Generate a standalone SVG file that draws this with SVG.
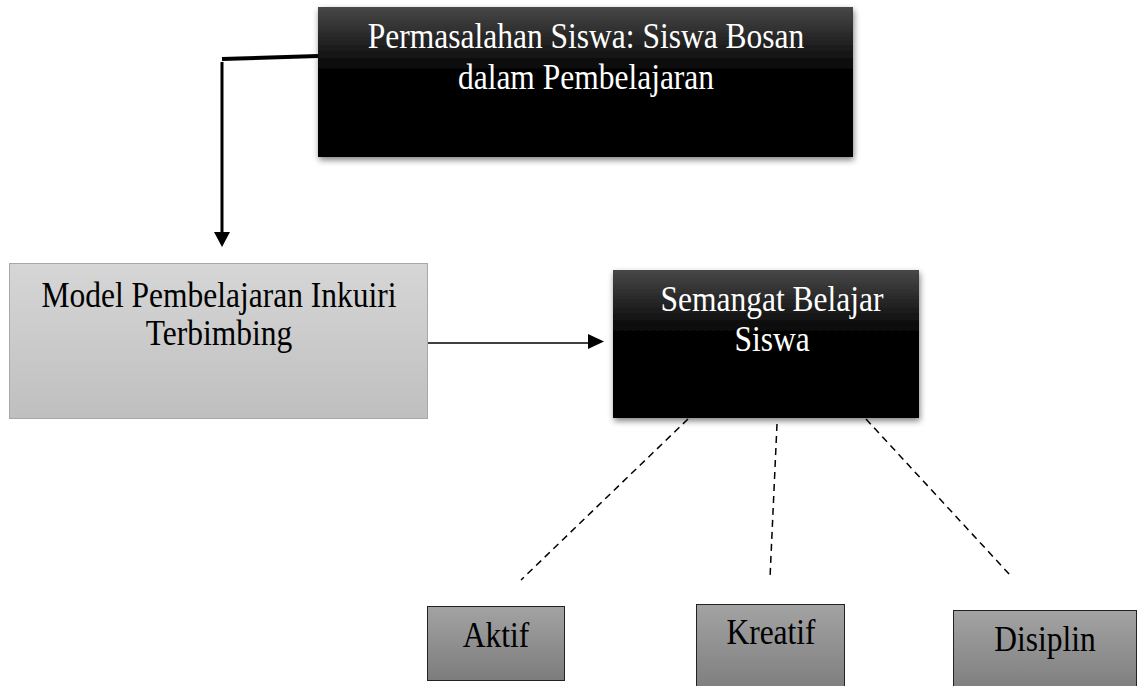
<svg xmlns="http://www.w3.org/2000/svg" width="1142" height="686" viewBox="0 0 1142 686">
<style>
.t{font-family:"Liberation Serif","Times New Roman",serif;font-size:35px;text-anchor:middle}
.w{fill:#ffffff}
.k{fill:#000000}
.dash{stroke:#000;stroke-width:1.5;stroke-dasharray:7 5;fill:none}
</style>
<defs>
<linearGradient id="gBlack" x1="0" y1="0" x2="0" y2="1">
<stop offset="0" stop-color="#484848"/>
<stop offset="0.45" stop-color="#000"/>
<stop offset="1" stop-color="#000"/>
</linearGradient>
<linearGradient id="gLight" x1="0" y1="0" x2="0" y2="1">
<stop offset="0" stop-color="#d6d6d6"/>
<stop offset="1" stop-color="#bfbfbf"/>
</linearGradient>
<linearGradient id="gGray" x1="0" y1="0" x2="0" y2="1">
<stop offset="0" stop-color="#a3a3a3"/>
<stop offset="1" stop-color="#7c7c7c"/>
</linearGradient>
<filter id="sh" x="-10%" y="-10%" width="120%" height="130%">
<feGaussianBlur in="SourceAlpha" stdDeviation="3"/>
<feOffset dx="1" dy="3" result="b"/>
<feComponentTransfer><feFuncA type="linear" slope="0.5"/></feComponentTransfer>
<feMerge><feMergeNode/><feMergeNode in="SourceGraphic"/></feMerge>
</filter>
</defs>
<rect width="1142" height="686" fill="#fff"/>

<g id="connectors">
<line x1="318" y1="56" x2="222" y2="59" stroke="#000" stroke-width="4"/>
<line x1="222" y1="62" x2="222" y2="233" stroke="#000" stroke-width="3"/>
<path d="M214,232 L230,232 L222,247 Z" fill="#000"/>
<line x1="428" y1="343" x2="590" y2="343" stroke="#000" stroke-width="1.5"/>
<path d="M588,334 L604,341.5 L588,349 Z" fill="#000"/>
<line class="dash" x1="688" y1="419" x2="521" y2="580"/>
<line class="dash" x1="777" y1="424" x2="770" y2="578"/>
<line class="dash" x1="866" y1="419" x2="1010" y2="575"/>
</g>

<g id="problem">
<rect x="318" y="7" width="535" height="150" fill="url(#gBlack)" filter="url(#sh)"/>
<text class="t w" transform="translate(586,48) scale(0.9,1)">Permasalahan Siswa: Siswa Bosan</text>
<text class="t w" transform="translate(586,89) scale(0.9,1)">dalam Pembelajaran</text>
</g>

<g id="model">
<rect x="9.5" y="263.5" width="418" height="155" fill="url(#gLight)" stroke="#a8a8a8" stroke-width="1"/>
<text class="t k" transform="translate(219,307) scale(0.9,1)">Model Pembelajaran Inkuiri</text>
<text class="t k" transform="translate(219,345) scale(0.9,1)">Terbimbing</text>
</g>

<g id="semangat">
<rect x="613" y="270" width="306" height="148" fill="url(#gBlack)" filter="url(#sh)"/>
<text class="t w" transform="translate(772,311) scale(0.9,1)">Semangat Belajar</text>
<text class="t w" transform="translate(772,351) scale(0.9,1)">Siswa</text>
</g>

<g id="aktif">
<rect x="427.5" y="606.5" width="137" height="74" fill="url(#gGray)" stroke="#222" stroke-width="1"/>
<text class="t k" transform="translate(496,647) scale(0.9,1)">Aktif</text>
</g>

<g id="kreatif">
<rect x="696.5" y="604.5" width="148" height="90" fill="url(#gGray)" stroke="#222" stroke-width="1"/>
<text class="t k" transform="translate(771,644) scale(0.9,1)">Kreatif</text>
</g>

<g id="disiplin">
<rect x="953.5" y="610.5" width="183" height="84" fill="url(#gGray)" stroke="#222" stroke-width="1"/>
<text class="t k" transform="translate(1045,651) scale(0.9,1)">Disiplin</text>
</g>
</svg>
